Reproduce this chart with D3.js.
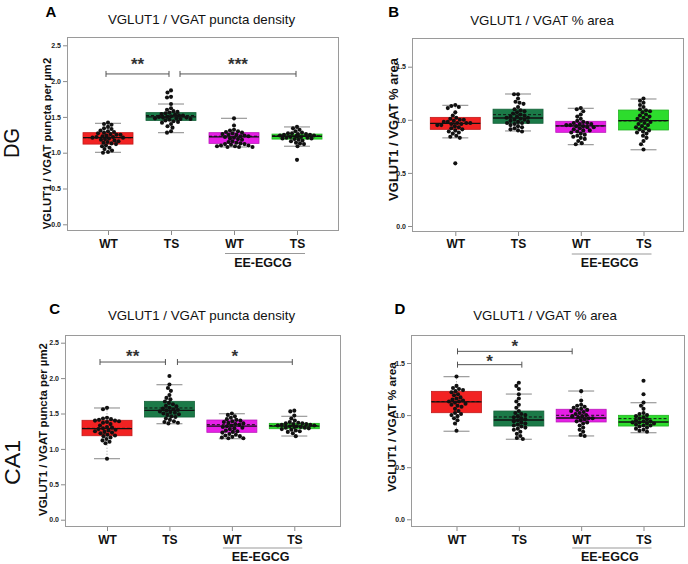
<!DOCTYPE html>
<html><head><meta charset="utf-8">
<script src="https://cdn.jsdelivr.net/npm/d3@7"></script>
<style>body{margin:0;background:#fff}svg{display:block}</style>
</head><body><svg id="c" width="688" height="564"></svg>
<script>
// ---------- DATA ----------
const groups = ["WT", "TS", "WT", "TS"];
const treatmentLabel = "EE-EGCG";
const groupColors = ["#f22222", "#1b7a48", "#e61fe6", "#2ddc2d"];
const densityTicks = [0, 0.5, 1.0, 1.5, 2.0, 2.5];
const areaTicks = [0, 0.5, 1.0, 1.5];

// Panel A : DG puncta density
const dgDensWT = [1.42,1.40,1.39,1.36,1.34,1.33,1.31,1.30,1.29,1.28,1.27,1.26,1.25,1.25,1.24,1.23,1.22,1.22,1.21,1.21,1.20,1.19,1.18,1.17,1.16,1.15,1.14,1.13,1.12,1.10,1.09,1.07,1.05,1.03,1.01,1.00];
const dgDensTS = [1.87,1.84,1.78,1.77,1.68,1.62,1.60,1.58,1.57,1.56,1.55,1.54,1.53,1.52,1.52,1.51,1.50,1.50,1.49,1.49,1.48,1.48,1.47,1.47,1.46,1.45,1.44,1.43,1.42,1.40,1.37,1.35,1.30,1.28];
const dgDensWTee = [1.48,1.38,1.32,1.31,1.30,1.29,1.28,1.27,1.26,1.25,1.25,1.24,1.23,1.23,1.22,1.21,1.20,1.19,1.18,1.16,1.15,1.14,1.13,1.12,1.12,1.11,1.10,1.10,1.09,1.09,1.08,1.08,1.08];
const dgDensTSee = [1.36,1.34,1.32,1.30,1.28,1.27,1.27,1.26,1.26,1.25,1.25,1.24,1.24,1.24,1.23,1.23,1.23,1.22,1.22,1.21,1.21,1.20,1.20,1.19,1.18,1.17,1.16,1.14,1.13,1.12,1.09,0.90];
// box stats: [whiskerLow, q1, median, q3, whiskerHigh, mean]
const dgDensBox = [[1.005,1.12,1.21,1.28,1.41,1.21],[1.28,1.45,1.50,1.56,1.68,1.52],[1.08,1.13,1.22,1.28,1.48,1.23],[1.09,1.19,1.23,1.26,1.36,1.235]];
const dgDensSig = [[0,1,2.1,"**"],[1,3,2.1,"***"]];

// Panel B : DG % area
const dgAreaWT = [1.14,1.13,1.12,1.11,1.07,1.04,1.02,1.01,1.00,1.00,0.99,0.98,0.98,0.97,0.97,0.97,0.96,0.96,0.95,0.95,0.94,0.93,0.92,0.91,0.90,0.89,0.88,0.87,0.85,0.84,0.83,0.59];
const dgAreaTS = [1.24,1.24,1.20,1.17,1.16,1.15,1.12,1.10,1.09,1.08,1.07,1.06,1.05,1.04,1.03,1.03,1.02,1.02,1.01,1.00,1.00,0.99,0.98,0.98,0.97,0.97,0.96,0.95,0.94,0.93,0.92,0.91,0.90,0.89];
const dgAreaWTee = [1.11,1.10,1.08,1.05,1.03,1.01,0.99,0.98,0.97,0.97,0.96,0.96,0.95,0.95,0.94,0.94,0.93,0.93,0.92,0.91,0.90,0.90,0.89,0.88,0.87,0.86,0.85,0.84,0.83,0.82,0.80,0.78,0.77];
const dgAreaTSee = [1.20,1.18,1.16,1.14,1.12,1.10,1.09,1.08,1.07,1.05,1.04,1.03,1.02,1.01,1.00,0.99,0.98,0.97,0.96,0.95,0.94,0.93,0.92,0.91,0.90,0.89,0.88,0.87,0.85,0.83,0.80,0.77,0.72];
const dgAreaBox = [[0.83,0.91,0.967,1.023,1.136,0.965],[0.895,0.967,1.017,1.10,1.243,1.048],[0.766,0.882,0.942,0.986,1.108,0.942],[0.718,0.904,0.992,1.092,1.196,0.99]];
const dgAreaSig = [];

// Panel C : CA1 puncta density
const caDensWT = [1.58,1.56,1.44,1.43,1.42,1.41,1.40,1.40,1.39,1.38,1.37,1.35,1.33,1.31,1.30,1.29,1.28,1.27,1.26,1.25,1.24,1.23,1.22,1.20,1.19,1.18,1.16,1.14,1.12,1.10,1.08,0.86];
const caDensTS = [2.03,1.91,1.86,1.82,1.76,1.72,1.70,1.67,1.65,1.63,1.61,1.60,1.58,1.57,1.56,1.55,1.54,1.53,1.52,1.51,1.50,1.49,1.48,1.46,1.45,1.43,1.41,1.39,1.38,1.37,1.36];
const caDensWTee = [1.50,1.48,1.46,1.44,1.42,1.41,1.40,1.39,1.38,1.37,1.36,1.35,1.34,1.33,1.32,1.31,1.30,1.29,1.28,1.26,1.25,1.24,1.23,1.21,1.20,1.19,1.18,1.17,1.16,1.15,1.15];
const caDensTSee = [1.54,1.53,1.47,1.43,1.40,1.38,1.37,1.36,1.36,1.35,1.35,1.34,1.34,1.33,1.33,1.32,1.32,1.31,1.31,1.30,1.30,1.29,1.28,1.27,1.26,1.25,1.24,1.22,1.18];
const caDensBox = [[0.862,1.186,1.285,1.404,1.578,1.29],[1.356,1.45,1.545,1.672,1.907,1.578],[1.144,1.234,1.323,1.408,1.497,1.342],[1.182,1.285,1.323,1.361,1.46,1.33]];
const caDensSig = [[0,1,2.227,"**"],[1,3,2.227,"*"]];

// Panel D : CA1 % area
const caAreaWT = [1.37,1.28,1.26,1.25,1.24,1.23,1.22,1.20,1.19,1.17,1.16,1.15,1.14,1.13,1.13,1.12,1.11,1.10,1.09,1.08,1.06,1.04,1.02,1.01,1.00,0.99,0.97,0.95,0.92,0.85];
const caAreaTS = [1.31,1.28,1.25,1.20,1.16,1.13,1.10,1.07,1.04,1.02,1.01,1.00,0.99,0.98,0.97,0.96,0.95,0.94,0.93,0.92,0.91,0.90,0.89,0.88,0.87,0.86,0.84,0.82,0.80,0.78,0.77];
const caAreaWTee = [1.23,1.14,1.10,1.09,1.08,1.07,1.06,1.05,1.05,1.04,1.03,1.02,1.01,1.00,0.99,0.99,0.98,0.97,0.97,0.96,0.95,0.94,0.93,0.92,0.90,0.88,0.86,0.84,0.81,0.80];
const caAreaTSee = [1.33,1.20,1.12,1.09,1.06,1.02,1.01,1.00,0.99,0.98,0.97,0.96,0.95,0.94,0.94,0.93,0.93,0.92,0.92,0.91,0.90,0.90,0.89,0.88,0.87,0.86,0.85,0.84];
const caAreaBox = [[0.845,1.023,1.126,1.228,1.369,1.13],[0.768,0.895,0.953,1.039,1.202,0.982],[0.80,0.934,0.972,1.056,1.231,0.998],[0.831,0.895,0.934,0.998,1.119,0.966]];
const caAreaSig = [[0,2,1.612,"*"],[0,1,1.484,"*"]];

const titleDensity = "VGLUT1 / VGAT puncta density";
const titleArea = "VGLUT1 / VGAT % area";
const ylabDensity = "VGLUT1 / VGAT puncta per µm2";
const ylabArea = "VGLUT1 / VGAT % area";

// ---------- LAYOUT ----------
const FONT = "'Liberation Sans', Arial, Helvetica, sans-serif";
const panels = [
  {letter:"A", lx:51, ly:16.7, title:titleDensity, tx:201.5, ty:24, ylab:ylabDensity, ylx:51, yly:143.5, yls:11.3,
   frame:[67,37,339,231], y0:224.3, yTop:45.3, ticks:densityTicks, c0:108, c3:297,
   pts:[dgDensWT,dgDensTS,dgDensWTee,dgDensTSee], box:dgDensBox, sig:dgDensSig, nudge:[[-2,-2],[9,-1]], starGap:[14,14],
   region:"DG", rx:19, ry:143, catY:248, ulY:253.5},
  {letter:"B", lx:393.7, ly:16.7, title:titleArea, tx:542, ty:25, ylab:ylabArea, ylx:398, yly:129.5, yls:13,
   frame:[412,38,684,232], y0:226, yTop:66.7, ticks:areaTicks, c0:455.3, c3:643.5,
   pts:[dgAreaWT,dgAreaTS,dgAreaWTee,dgAreaTSee], box:dgAreaBox, sig:dgAreaSig, nudge:[], starGap:[],
   catY:248.3, ulY:254},
  {letter:"C", lx:54.7, ly:313.7, title:titleDensity, tx:201.5, ty:320, ylab:ylabDensity, ylx:46.5, yly:429.5, yls:11.4,
   frame:[65,335,341,527], y0:519.7, yTop:342.7, ticks:densityTicks, c0:107, c3:294.3,
   pts:[caDensWT,caDensTS,caDensWTee,caDensTSee], box:caDensBox, sig:caDensSig, nudge:[[-7,-4],[8,-2]], starGap:[10,10],
   region:"CA1", rx:20, ry:462.5, catY:543.7, ulY:548},
  {letter:"D", lx:399.8, ly:313.7, title:titleArea, tx:545, ty:320, ylab:ylabArea, ylx:396, yly:427, yls:11.8,
   frame:[411,335,685,527], y0:519.3, yTop:363, ticks:areaTicks, c0:456.5, c3:643.5,
   pts:[caAreaWT,caAreaTS,caAreaWTee,caAreaTSee], box:caAreaBox, sig:caAreaSig, nudge:[[1,-9],[1,3]], starGap:[9.3,7.7],
   catY:543.7, ulY:548}
];

const svg = d3.select("#c");
svg.append("rect").attr("width",688).attr("height",564).attr("fill","#fff");

const BOXW = 50, CAPW = 26, R = 2.05, STAR_FS = 17;

function beeswarm(values, y, cx) {
  const sorted = values.map(v => ({v, py: y(v)})).sort((a,b) => a.py - b.py);
  const placed = [];
  const D = 2*R - 0.3;
  sorted.forEach(p => {
    let best = null;
    for (let k = 0; k <= 80; k++) {
      const off = (k % 2 === 0 ? 1 : -1) * Math.ceil(k/2) * 0.5;
      const x = cx + off;
      let ok = true;
      for (const q of placed) {
        const dx = q.px - x, dy = q.py - p.py;
        if (dx*dx + dy*dy < D*D) { ok = false; break; }
      }
      if (ok) { best = x; break; }
    }
    p.px = best === null ? cx : best;
    placed.push(p);
  });
  return placed;
}

panels.forEach(P => {
  const [fx0, fy0, fx1, fy1] = P.frame;
  const topTick = P.ticks[P.ticks.length-1];
  const y = d3.scaleLinear().domain([0, topTick]).range([P.y0, P.yTop]);
  const x = d3.scalePoint().domain([0,1,2,3]).range([P.c0, P.c3]);
  const g = svg.append("g");

  g.append("text").attr("x",P.lx).attr("y",P.ly).attr("text-anchor","middle")
    .attr("font-family",FONT).attr("font-weight","bold").attr("font-size",15).text(P.letter);
  g.append("text").attr("x",P.tx).attr("y",P.ty).attr("text-anchor","middle")
    .attr("font-family",FONT).attr("font-size",13.3).attr("fill","#111").text(P.title);
  g.append("text").attr("transform",`translate(${P.ylx},${P.yly}) rotate(-90)`).attr("text-anchor","middle")
    .attr("font-family",FONT).attr("font-weight","bold").attr("font-size",P.yls).attr("fill","#111").text(P.ylab);
  if (P.region) {
    g.append("text").attr("transform",`translate(${P.rx},${P.ry}) rotate(-90)`).attr("text-anchor","middle")
      .attr("font-family",FONT).attr("font-size",22).attr("font-weight",300).attr("fill","#111")
      .attr("textLength", P.region === "DG" ? 30 : 45).attr("lengthAdjust","spacingAndGlyphs").text(P.region);
  }

  g.append("rect").attr("x",fx0+0.5).attr("y",fy0+0.5).attr("width",fx1-fx0-1).attr("height",fy1-fy0-1)
    .attr("fill","none").attr("stroke","#9a9a9a").attr("stroke-width",1);

  const ya = g.append("g").attr("transform",`translate(${fx0},0)`)
    .call(d3.axisLeft(y).tickValues(P.ticks).tickSize(4).tickPadding(2).tickFormat(d3.format(".1f")));
  ya.select(".domain").remove();
  ya.selectAll("line").attr("stroke","#8a8a8a");
  ya.selectAll("text").attr("font-family",FONT).attr("font-size",7).attr("font-weight","bold").attr("fill","#222");

  const xa = g.append("g").attr("transform",`translate(0,${fy1})`)
    .call(d3.axisBottom(x).tickSize(4).tickPadding(0).tickFormat(i => groups[i]));
  xa.select(".domain").remove();
  xa.selectAll("line").attr("stroke","#8a8a8a");
  xa.selectAll("text").attr("font-family",FONT).attr("font-size",12).attr("font-weight","bold").attr("fill","#111")
    .attr("dy",null).attr("y", P.catY - fy1);

  const ux0 = x(2) - 9, ux1 = x(3) + 8;
  g.append("line").attr("x1",ux0).attr("x2",ux1).attr("y1",P.ulY).attr("y2",P.ulY)
    .attr("stroke","#999").attr("stroke-width",1);
  g.append("text").attr("x",(ux0+ux1)/2 - 2).attr("y",P.ulY + 13).attr("text-anchor","middle")
    .attr("font-family",FONT).attr("font-size",12.5).attr("font-weight","bold").attr("fill","#111").text(treatmentLabel);

  P.box.forEach((b, i) => {
    const [wl, q1, med, q3, wh, mean] = b;
    const cx = x(i);
    const c = groupColors[i];
    g.append("line").attr("x1",cx).attr("x2",cx).attr("y1",y(q3)).attr("y2",y(wh))
      .attr("stroke","#999").attr("stroke-dasharray","1,2");
    g.append("line").attr("x1",cx).attr("x2",cx).attr("y1",y(q1)).attr("y2",y(wl))
      .attr("stroke","#999").attr("stroke-dasharray","1,2");
    [wl, wh].forEach(v => g.append("line").attr("x1",cx-CAPW/2).attr("x2",cx+CAPW/2).attr("y1",y(v)).attr("y2",y(v))
      .attr("stroke","#9a9a9a").attr("stroke-width",1.2));
    g.append("rect").attr("x",cx-BOXW/2).attr("y",y(q3)).attr("width",BOXW).attr("height",y(q1)-y(q3))
      .attr("fill",c).attr("stroke",d3.color(c).darker(0.6)).attr("stroke-width",0.8);
    g.append("line").attr("x1",cx-BOXW/2).attr("x2",cx+BOXW/2).attr("y1",y(med)).attr("y2",y(med))
      .attr("stroke","#111").attr("stroke-width",1.3);
    g.append("line").attr("x1",cx-BOXW/2).attr("x2",cx+BOXW/2).attr("y1",y(mean)).attr("y2",y(mean))
      .attr("stroke","#111").attr("stroke-width",1).attr("stroke-dasharray","3,2");
  });

  P.pts.forEach((vals, i) => {
    const pts = beeswarm(vals, y, x(i));
    g.selectAll(null).data(pts).enter().append("circle")
      .attr("cx", d => d.px).attr("cy", d => d.py).attr("r", R).attr("fill","#111");
  });

  P.sig.forEach((s, k) => {
    const [i, j, v, lab] = s;
    const nud = P.nudge[k] || [0,0];
    const x1 = x(i) + nud[0], x2 = x(j) + nud[1], yy = y(v);
    g.append("path").attr("d",`M${x1},${yy-3}V${yy+3}M${x1},${yy}H${x2}M${x2},${yy-3}V${yy+3}`)
      .attr("fill","none").attr("stroke","#555").attr("stroke-width",1);
    // star centre sits starGap px above bracket; asterisk centre ≈ 0.58em above baseline
    const baseY = yy - P.starGap[k] + 0.58*STAR_FS;
    g.append("text").attr("x",(x1+x2)/2).attr("y",baseY).attr("text-anchor","middle")
      .attr("font-family",FONT).attr("font-size",STAR_FS).attr("font-weight","bold").attr("fill","#333").text(lab);
  });
});
</script></body></html>
